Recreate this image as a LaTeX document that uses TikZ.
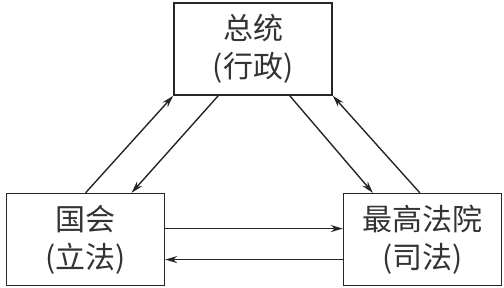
\documentclass[tikz,border=0pt]{standalone}
\usepackage{fontspec}
\newfontfamily\cjk{Noto Sans CJK SC}
\usepackage{tikz}
\usetikzlibrary{arrows.meta,positioning}
\tikzset{
    branch/.style = {rectangle, minimum width=79pt, minimum height=46pt, text centered, align=center, draw=black!85, line width=0.8pt, font=\cjk\fontsize{15}{19}\selectfont, text=black!80},
    link/.style = {draw=black!85, line width=0.7pt, -{Stealth[length=6pt,width=3.5pt]}}
}

\begin{document}
\begin{tikzpicture}[x=0.5pt, y=-0.5pt]
    \useasboundingbox (0,0) rectangle (504,288);

    \node [branch] (zongtong) at (253,49) {总统\\(行政)};
    \node [branch, below left=48.5pt and 4pt of zongtong] (guohui) {国会\\(立法)};
    \node [branch, below right=48.5pt and 5pt of zongtong] (fayuan) {最高法院\\(司法)};

    \draw [link] ([xshift=40pt]guohui.north west) -- (zongtong.south west);
    \draw [link] ([xshift=22.5pt]zongtong.south west) -- ([xshift=63pt]guohui.north west);
    \draw [link] ([xshift=-21.5pt]zongtong.south east) -- ([xshift=15pt]fayuan.north west);
    \draw [link] ([xshift=38.5pt]fayuan.north west) -- (zongtong.south east);
    \draw [link] ([yshift=5.5pt]guohui.east) -- ([yshift=5.5pt]fayuan.west);
    \draw [link] ([yshift=-10pt]fayuan.west) -- ([yshift=-10pt]guohui.east);
\end{tikzpicture}
\end{document}
